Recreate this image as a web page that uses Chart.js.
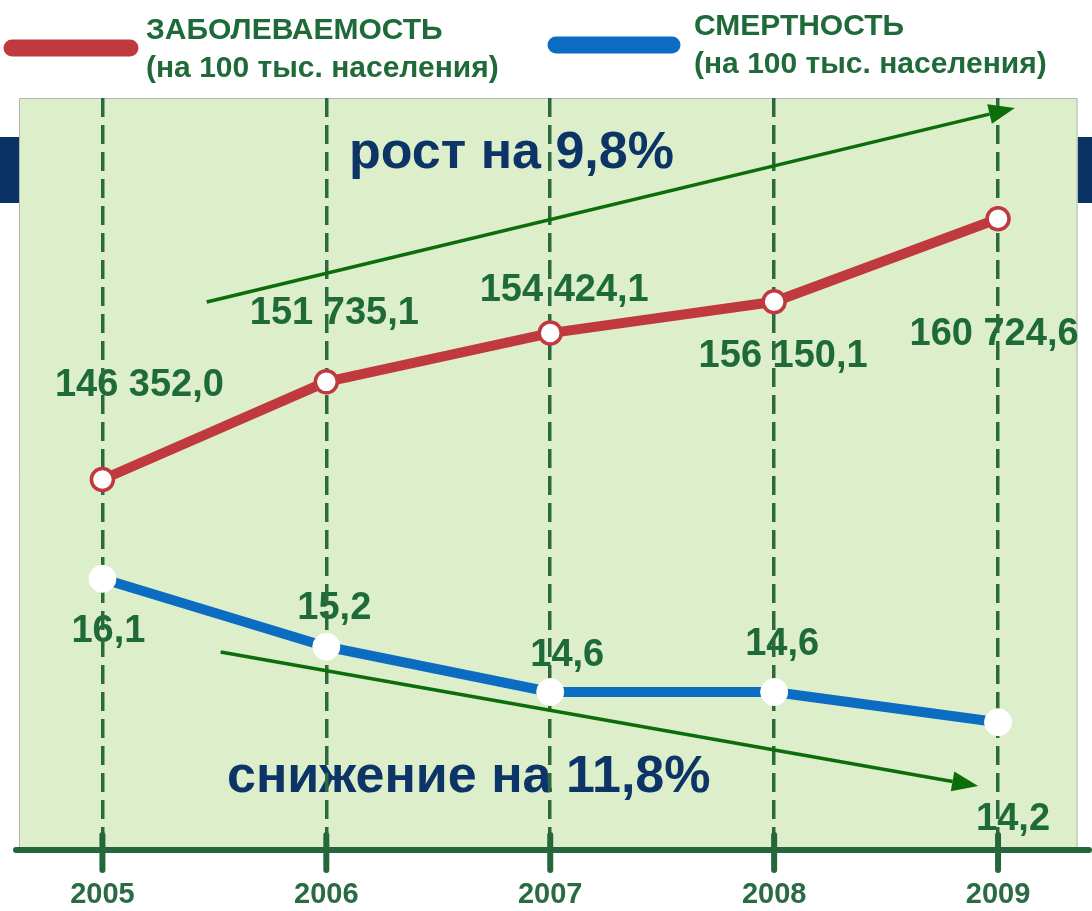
<!DOCTYPE html>
<html lang="ru">
<head>
<meta charset="utf-8">
<title>Заболеваемость и смертность, 2005–2009</title>
<script src="https://cdn.jsdelivr.net/npm/chart.js@4.4.1/dist/chart.umd.min.js"></script>
<style>
  html, body { margin: 0; padding: 0; background: #fff; }
  #wrap { width: 1092px; height: 911px; }
</style>
</head>
<body>
<div id="wrap"><canvas id="trendChart" width="1092" height="911"></canvas></div>
<script>
// --- data ---
const years = [2005, 2006, 2007, 2008, 2009];
const incidence = [146352.0, 151735.1, 154424.1, 156150.1, 160724.6]; // на 100 тыс.
const mortality = [16.1, 15.2, 14.6, 14.6, 14.2];                      // на 100 тыс.
const seriesNames = ["ЗАБОЛЕВАЕМОСТЬ", "СМЕРТНОСТЬ"];
const unitNote = "(на 100 тыс. населения)";
const growthNote = "рост на 9,8%";
const declineNote = "снижение на 11,8%";

// trend arrows, in data units (x = year, y = value on the series axis)
const growthArrow = [[2005.466, 156137], [2009.075, 166830]];
const declineArrow = [[2005.528, 15.131], [2008.911, 13.355]];

// label placement relative to each point (dx, dy to label centre/baseline)
const incidenceLabelOffset = [[37, -84], [8, -58], [14, -32], [9, 65], [-4, 126]];
const mortalityLabelOffset = [[6, 63], [8, -28], [17, -26], [8, -37], [15, 108]];

const RED = "#c0393e";
const BLUE = "#0b6cc2";
const DARK_GREEN = "#1f6a39";
const NAVY = "#0c3466";

function fmtRu(v, digits) {
    let s = v.toFixed(digits);
    let parts = s.split(".");
    let whole = parts[0].replace(/\B(?=(\d{3})+(?!\d))/g, " ");
    return digits > 0 ? whole + "," + parts[1] : whole;
}

// background, navy header stubs, plot panel, notes and value labels (under the grid)
const backdropPlugin = {
    id: "backdrop",
    beforeDraw(chart) {
        const ctx = chart.ctx;
        const a = chart.chartArea;
        ctx.save();
        ctx.fillStyle = "#ffffff";
        ctx.fillRect(0, 0, chart.width, chart.height);

        ctx.fillStyle = "#0b3264";
        ctx.fillRect(0, 137, a.left, 66);
        ctx.fillRect(a.right, 137, chart.width - a.right, 66);

        ctx.fillStyle = "#dcefca";
        ctx.fillRect(a.left, a.top, a.right - a.left, a.bottom - a.top);
        ctx.strokeStyle = "#b5b5b5";
        ctx.lineWidth = 1;
        ctx.beginPath();
        ctx.moveTo(a.left + 0.5, a.bottom);
        ctx.lineTo(a.left + 0.5, a.top + 0.5);
        ctx.lineTo(a.right - 0.5, a.top + 0.5);
        ctx.lineTo(a.right - 0.5, a.bottom);
        ctx.stroke();

        // trend notes
        ctx.fillStyle = NAVY;
        ctx.font = "bold 52px 'Liberation Sans', Arial, sans-serif";
        ctx.textAlign = "left";
        ctx.textBaseline = "alphabetic";
        ctx.fillText(growthNote, 349, 168);
        ctx.fillText(declineNote, 227, 792);

        // value labels
        ctx.fillStyle = DARK_GREEN;
        ctx.font = "bold 38px 'Liberation Sans', Arial, sans-serif";
        ctx.textAlign = "center";
        const put = (dsIndex, values, digits, offsets) => {
            chart.getDatasetMeta(dsIndex).data.forEach((pt, i) => {
                ctx.fillText(fmtRu(values[i], digits), pt.x + offsets[i][0], pt.y + offsets[i][1]);
            });
        };
        put(0, incidence, 1, incidenceLabelOffset);
        put(1, mortality, 1, mortalityLabelOffset);
        ctx.restore();
    }
};

function drawArrow(ctx, x1, y1, x2, y2) {
    const ang = Math.atan2(y2 - y1, x2 - x1);
    const head = 26, half = 10;
    const bx = x2 - head * Math.cos(ang);
    const by = y2 - head * Math.sin(ang);
    ctx.beginPath();
    ctx.moveTo(x1, y1);
    ctx.lineTo(bx, by);
    ctx.stroke();
    ctx.beginPath();
    ctx.moveTo(x2, y2);
    ctx.lineTo(bx + half * Math.sin(ang), by - half * Math.cos(ang));
    ctx.lineTo(bx - half * Math.sin(ang), by + half * Math.cos(ang));
    ctx.closePath();
    ctx.fill();
}

// trend arrows + bottom axis with ticks + legend
const overlayPlugin = {
    id: "overlay",
    afterDatasetsDraw(chart) {
        const ctx = chart.ctx;
        const xs = chart.scales.x, yInc = chart.scales.yInc, yMort = chart.scales.yMort;
        ctx.save();
        ctx.strokeStyle = "#0b6e0b";
        ctx.fillStyle = "#0b6e0b";
        ctx.lineWidth = 3.5;
        drawArrow(ctx,
            xs.getPixelForValue(growthArrow[0][0]), yInc.getPixelForValue(growthArrow[0][1]),
            xs.getPixelForValue(growthArrow[1][0]), yInc.getPixelForValue(growthArrow[1][1]));
        drawArrow(ctx,
            xs.getPixelForValue(declineArrow[0][0]), yMort.getPixelForValue(declineArrow[0][1]),
            xs.getPixelForValue(declineArrow[1][0]), yMort.getPixelForValue(declineArrow[1][1]));
        ctx.restore();
    },
    afterDraw(chart) {
        const ctx = chart.ctx;
        const a = chart.chartArea;
        const xs = chart.scales.x;
        ctx.save();
        ctx.strokeStyle = "#24673b";
        ctx.lineCap = "round";
        ctx.lineWidth = 6;
        ctx.beginPath();
        ctx.moveTo(16, a.bottom);
        ctx.lineTo(chart.width - 3, a.bottom);
        ctx.stroke();
        years.forEach(y => {
            const px = xs.getPixelForValue(y);
            ctx.beginPath();
            ctx.moveTo(px, a.bottom - 15);
            ctx.lineTo(px, a.bottom + 20);
            ctx.stroke();
        });

        // legend
        const legend = [
            { color: RED, x1: 12, x2: 130, y: 48, tx: 146, b1: 39, b2: 77, name: seriesNames[0] },
            { color: BLUE, x1: 556, x2: 672, y: 45, tx: 694, b1: 35, b2: 73, name: seriesNames[1] }
        ];
        legend.forEach(l => {
            ctx.strokeStyle = l.color;
            ctx.lineWidth = 17;
            ctx.beginPath();
            ctx.moveTo(l.x1, l.y);
            ctx.lineTo(l.x2, l.y);
            ctx.stroke();
            ctx.fillStyle = DARK_GREEN;
            ctx.font = "bold 30px 'Liberation Sans', Arial, sans-serif";
            ctx.textAlign = "left";
            ctx.fillText(l.name, l.tx, l.b1);
            ctx.fillText(unitNote, l.tx, l.b2);
        });
        ctx.restore();
    }
};

const ctx = document.getElementById("trendChart").getContext("2d");
const chart = new Chart(ctx, {
    type: "line",
    data: {
        datasets: [
            {
                label: seriesNames[0],
                yAxisID: "yInc",
                data: years.map((y, i) => ({ x: y, y: incidence[i] })),
                borderColor: RED,
                borderWidth: 10,
                pointRadius: 11,
                pointBorderWidth: 3.5,
                pointBackgroundColor: "#ffffff",
                pointBorderColor: RED,
                tension: 0
            },
            {
                label: seriesNames[1],
                yAxisID: "yMort",
                data: years.map((y, i) => ({ x: y, y: mortality[i] })),
                borderColor: BLUE,
                borderWidth: 10,
                pointRadius: 13.5,
                pointBorderWidth: 1,
                pointBackgroundColor: "#ffffff",
                pointBorderColor: "#ffffff",
                tension: 0
            }
        ]
    },
    options: {
        responsive: false,
        animation: false,
        events: [],
        layout: { padding: { left: 19, right: 0, top: 98, bottom: 0 } },
        plugins: {
            legend: { display: false },
            tooltip: { enabled: false }
        },
        scales: {
            x: {
                type: "linear",
                min: 2004.6275,
                max: 2009.3548,
                afterBuildTicks: s => { s.ticks = years.map(v => ({ value: v })); },
                afterFit: s => { s.height = 61; },
                ticks: {
                    autoSkip: false,
                    maxRotation: 0,
                    padding: 6,
                    color: "#2a6a45",
                    font: { family: "'Liberation Sans Narrow', 'Liberation Sans', sans-serif", size: 29, weight: "bold" },
                    callback: v => String(v)
                },
                grid: {
                    color: "#2a6a3c",
                    lineWidth: 3.5,
                    drawTicks: true,
                    tickLength: 22,
                    tickColor: "rgba(0,0,0,0)"
                },
                border: { display: false, dash: [19, 8] }
            },
            yInc: { type: "linear", display: false, min: 125930, max: 167382 },
            yMort: { type: "linear", display: false, min: 12.507, max: 22.47 }
        }
    },
    plugins: [backdropPlugin, overlayPlugin]
});
</script>
</body>
</html>
